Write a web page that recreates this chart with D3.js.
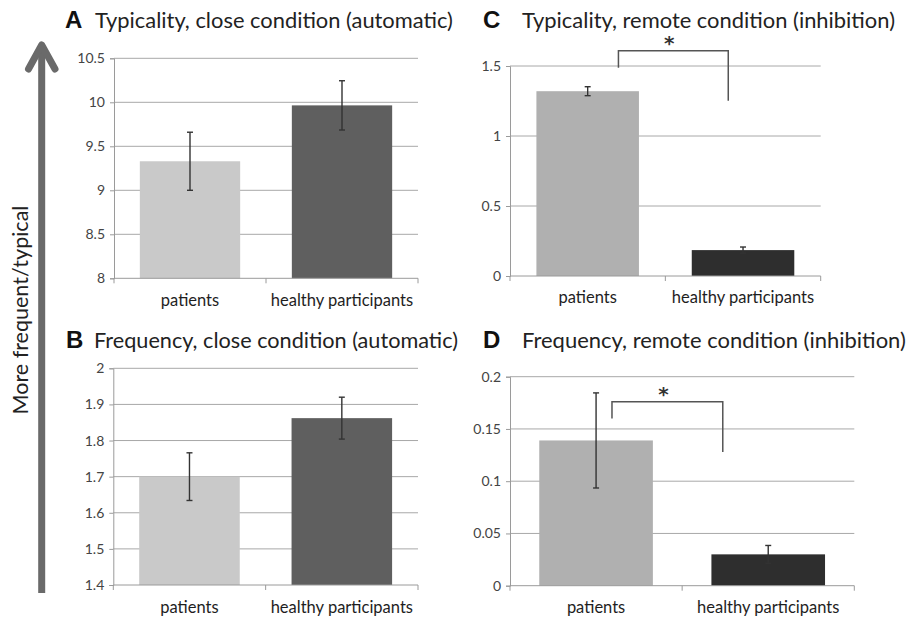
<!DOCTYPE html>
<html>
<head>
<meta charset="utf-8">
<script src="https://cdn.jsdelivr.net/npm/d3@7"></script>
<style>
  html, body { margin: 0; padding: 0; background: #fff; }
  svg { display: block; }
</style>
</head>
<body>
<svg id="chart" width="909" height="619"></svg>
<script>
// ---------- data ----------
const categories = ["patients", "healthy participants"];

const typicalityCloseValues = [9.33, 9.965];
const typicalityCloseErrors = [0.33, 0.28];
const typicalityCloseTicks = [8, 8.5, 9, 9.5, 10, 10.5];

const frequencyCloseValues = [1.70, 1.862];
const frequencyCloseErrors = [0.066, 0.058];
const frequencyCloseTicks = [1.4, 1.5, 1.6, 1.7, 1.8, 1.9, 2];

const typicalityRemoteValues = [1.32, 0.185];
const typicalityRemoteErrors = [0.032, 0.022];
const typicalityRemoteTicks = [0, 0.5, 1, 1.5];

const frequencyRemoteValues = [0.139, 0.030];
const frequencyRemoteErrors = [0.0455, 0.0085];
const frequencyRemoteTicks = [0, 0.05, 0.1, 0.15, 0.2];

const panelLetters = ["A", "B", "C", "D"];
const panelTitles = [
  "Typicality, close condition (automatic)",
  "Frequency, close condition (automatic)",
  "Typicality, remote condition (inhibition)",
  "Frequency, remote condition (inhibition)"
];
const yAxisLabel = "More frequent/typical";
const significanceMark = "*";

// ---------- layout ----------
const panels = [
  { letter: panelLetters[0], title: panelTitles[0], values: typicalityCloseValues, errors: typicalityCloseErrors,
    ticks: typicalityCloseTicks, x0: 114, x1: 418, yTop: 58.3, yBot: 278.3,
    colors: ["#c9c9c9", "#5f5f5f"], letterX: 65, titleX: 95, titleY: 28, titleW: 358, catY: 306 },
  { letter: panelLetters[1], title: panelTitles[1], values: frequencyCloseValues, errors: frequencyCloseErrors,
    ticks: frequencyCloseTicks, x0: 113.3, x1: 418, yTop: 368.3, yBot: 585,
    colors: ["#c9c9c9", "#5f5f5f"], letterX: 66, titleX: 94, titleY: 348, titleW: 364, catY: 613 },
  { letter: panelLetters[2], title: panelTitles[2], values: typicalityRemoteValues, errors: typicalityRemoteErrors,
    ticks: typicalityRemoteTicks, x0: 510, x1: 820.7, yTop: 66, yBot: 276,
    colors: ["#b0b0b0", "#2e2e2e"], letterX: 483, titleX: 522, titleY: 28, titleW: 373, catY: 303,
    bracket: { top: 1.609, left: 1.488, right: 1.252, lf: 0.80, rf: 0.356 } },
  { letter: panelLetters[3], title: panelTitles[3], values: frequencyRemoteValues, errors: frequencyRemoteErrors,
    ticks: frequencyRemoteTicks, x0: 510, x1: 854.3, yTop: 376.7, yBot: 585.7,
    colors: ["#b0b0b0", "#2e2e2e"], letterX: 483, titleX: 522, titleY: 348, titleW: 384, catY: 613,
    bracket: { top: 0.176, left: 0.160, right: 0.128, lf: 0.64, rf: 0.10 } }
];

const svg = d3.select("#chart");
const bodyFont = "Lato, 'Open Sans', sans-serif";

panels.forEach(p => {
  const g = svg.append("g");
  const ticks = p.ticks;
  const y = d3.scaleLinear().domain([ticks[0], ticks[ticks.length - 1]]).range([p.yBot, p.yTop]);
  const x = d3.scaleBand().domain(categories).range([p.x0, p.x1]).paddingInner(0.34).paddingOuter(0.17);

  // gridlines
  g.append("g").selectAll("line").data(ticks.slice(1)).join("line")
    .attr("x1", p.x0).attr("x2", p.x1)
    .attr("y1", d => y(d)).attr("y2", d => y(d))
    .attr("stroke", "#a8a8a8").attr("stroke-width", 1);

  // y axis
  const yAxis = d3.axisLeft(y).tickValues(ticks).tickSize(4).tickPadding(5)
    .tickFormat(d => String(+d.toFixed(3)));
  const ya = g.append("g").attr("transform", `translate(${p.x0},0)`).call(yAxis);
  ya.select(".domain").attr("stroke", "#9a9a9a");
  ya.selectAll(".tick line").attr("stroke", "#9a9a9a");
  ya.selectAll(".tick text").attr("fill", "#444").style("font-family", bodyFont).style("font-size", "14px");

  // bars
  g.append("g").selectAll("rect").data(p.values).join("rect")
    .attr("x", (d, i) => x(categories[i]))
    .attr("width", x.bandwidth())
    .attr("y", d => y(d))
    .attr("height", d => y(ticks[0]) - y(d))
    .attr("fill", (d, i) => p.colors[i]);

  // x axis
  const xa = g.append("g").attr("transform", `translate(0,${p.yBot})`);
  xa.append("line").attr("x1", p.x0).attr("x2", p.x1).attr("stroke", "#9a9a9a");
  const step = x.step();
  const bounds = [p.x0, p.x0 + step, p.x1];
  xa.selectAll("line.tk").data(bounds).join("line").attr("class", "tk")
    .attr("x1", d => d).attr("x2", d => d).attr("y1", 0).attr("y2", 5)
    .attr("stroke", "#9a9a9a");
  g.append("g").selectAll("text").data(categories).join("text")
    .attr("x", d => x(d) + x.bandwidth() / 2)
    .attr("y", p.catY)
    .attr("text-anchor", "middle")
    .attr("fill", "#1e1e1e")
    .style("font-family", bodyFont).style("font-size", "16.5px")
    .text(d => d);

  // error bars
  const eb = g.append("g").attr("stroke", "#333").attr("stroke-width", 1.4);
  p.values.forEach((v, i) => {
    const cx = x(categories[i]) + x.bandwidth() / 2;
    const hi = y(v + p.errors[i]), lo = y(v - p.errors[i]);
    eb.append("line").attr("x1", cx).attr("x2", cx).attr("y1", hi).attr("y2", lo);
    eb.append("line").attr("x1", cx - 3).attr("x2", cx + 3).attr("y1", hi).attr("y2", hi);
    eb.append("line").attr("x1", cx - 3).attr("x2", cx + 3).attr("y1", lo).attr("y2", lo);
  });

  // significance bracket
  if (p.bracket) {
    const b = p.bracket;
    const lx = x(categories[0]) + b.lf * x.bandwidth();
    const rx = x(categories[1]) + b.rf * x.bandwidth();
    g.append("path")
      .attr("d", `M${lx},${y(b.left)}V${y(b.top)}H${rx}V${y(b.right)}`)
      .attr("fill", "none").attr("stroke", "#555").attr("stroke-width", 1.5);
    g.append("text")
      .attr("x", (lx + rx) / 2 - 4).attr("y", y(b.top) - 1)
      .attr("text-anchor", "middle").attr("fill", "#333")
      .style("font-family", "'DejaVu Sans', sans-serif").style("font-size", "20px").style("font-weight", "bold")
      .text(significanceMark);
  }

  // titles
  g.append("text").attr("x", p.letterX).attr("y", p.titleY)
    .attr("fill", "#111")
    .style("font-family", "'Liberation Sans', Arial, sans-serif").style("font-weight", "bold").style("font-size", "24px")
    .text(p.letter);
  const t = g.append("text").attr("x", p.titleX).attr("y", p.titleY)
    .attr("fill", "#222")
    .style("font-family", bodyFont).style("font-size", "22px")
    .text(p.title);
  const w = t.node().getComputedTextLength();
  t.style("font-size", (22 * p.titleW / w).toFixed(2) + "px");
});

// big arrow
const arrow = svg.append("g").attr("stroke", "#6a6a6a").attr("fill", "none").attr("stroke-linecap", "round").attr("stroke-linejoin", "round");
arrow.append("line").attr("x1", 41.7).attr("x2", 41.7).attr("y1", 593).attr("y2", 47).attr("stroke-width", 7).attr("stroke-linecap", "butt");
arrow.append("path").attr("d", "M28.5,69 L41.7,45 L55,69").attr("stroke-width", 7);

// y label
svg.append("text")
  .attr("transform", "translate(28,310) rotate(-90)")
  .attr("text-anchor", "middle")
  .attr("fill", "#222")
  .style("font-family", bodyFont).style("font-size", "21.5px")
  .text(yAxisLabel);
</script>
</body>
</html>
